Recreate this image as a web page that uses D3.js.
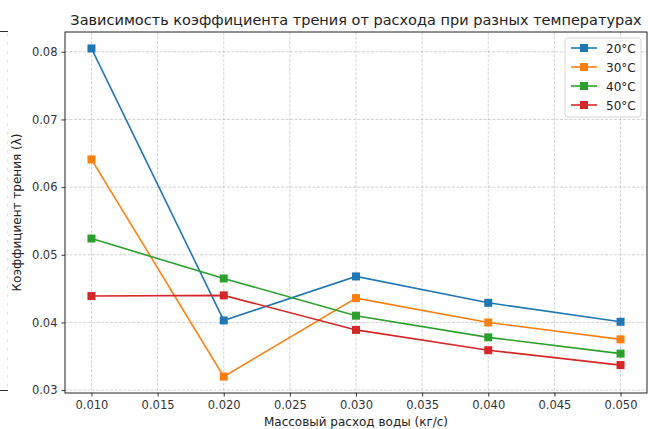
<!DOCTYPE html>
<html><head><meta charset="utf-8">
<script src="https://cdn.jsdelivr.net/npm/d3@7"></script>
<style>body{margin:0;background:#fff}svg{display:block;font-family:"DejaVu Sans",sans-serif}</style>
</head><body>
<svg id="c" width="648" height="429"></svg>
<script>
const flows = [0.010, 0.020, 0.030, 0.040, 0.050];
const seriesNames = ["20°C", "30°C", "40°C", "50°C"];
const t20 = [0.0805, 0.0403, 0.0468, 0.0429, 0.0401];
const t30 = [0.0641, 0.0320, 0.0436, 0.0400, 0.0375];
const t40 = [0.0524, 0.0465, 0.0410, 0.0378, 0.0354];
const t50 = [0.0439, 0.0440, 0.0389, 0.0359, 0.0337];
const xTicks = [0.010, 0.015, 0.020, 0.025, 0.030, 0.035, 0.040, 0.045, 0.050];
const yTicks = [0.03, 0.04, 0.05, 0.06, 0.07, 0.08];
const colors = ["#1f77b4", "#ff7f0e", "#2ca02c", "#d62728"];
const seriesVals = [t20, t30, t40, t50];

const svg = d3.select("#c");
const L = 65, R = 647, T = 32, B = 393;

// remnant stubs at left edge
svg.append("line").attr("x1",0).attr("x2",8).attr("y1",31.5).attr("y2",31.5).attr("stroke","#333").attr("stroke-width",1);
svg.append("line").attr("x1",0).attr("x2",8).attr("y1",390.5).attr("y2",390.5).attr("stroke","#333").attr("stroke-width",1);
svg.append("line").attr("x1",7.5).attr("x2",7.5).attr("y1",33).attr("y2",389).attr("stroke","#ddd").attr("stroke-dasharray","3,6").attr("stroke-width",0.8);

const all = seriesVals.flat();
const ymin = d3.min(all), ymax = d3.max(all), pad = 0.05*(ymax-ymin);
const x = d3.scaleLinear().domain([0.008, 0.052]).range([L, R]);
const y = d3.scaleLinear().domain([ymin-pad, ymax+pad]).range([B, T]);

// grid
const g = svg.append("g");
g.selectAll(".gx").data(xTicks).enter().append("line")
  .attr("x1",d=>x(d)).attr("x2",d=>x(d)).attr("y1",T).attr("y2",B)
  .attr("stroke","#b0b0b0").attr("stroke-opacity",0.7).attr("stroke-width",0.8).attr("stroke-dasharray","3,1.5");
g.selectAll(".gy").data(yTicks).enter().append("line")
  .attr("y1",d=>y(d)).attr("y2",d=>y(d)).attr("x1",L).attr("x2",R)
  .attr("stroke","#b0b0b0").attr("stroke-opacity",0.7).attr("stroke-width",0.8).attr("stroke-dasharray","3,1.5");

// axes
const xa = svg.append("g").attr("transform",`translate(0,${B})`)
  .call(d3.axisBottom(x).tickValues(xTicks).tickFormat(d3.format(".3f")).tickSize(3.5).tickPadding(4));
const ya = svg.append("g").attr("transform",`translate(${L},0)`)
  .call(d3.axisLeft(y).tickValues(yTicks).tickFormat(d3.format(".2f")).tickSize(3.5).tickPadding(4));
[xa, ya].forEach(a => {
  a.select(".domain").remove();
  a.selectAll("text").attr("font-size", 11.5).attr("fill","#333").attr("font-family","DejaVu Sans");
  a.selectAll("line").attr("stroke","#333");
});

// lines
const line = d3.line().x((d,i)=>x(flows[i])).y(d=>y(d));
seriesVals.forEach((vals, k) => {
  svg.append("path").datum(vals).attr("d", line).attr("fill","none")
    .attr("stroke", colors[k]).attr("stroke-width", 1.6);
  svg.selectAll(".m"+k).data(vals).enter().append("rect")
    .attr("x",(d,i)=>x(flows[i])-4).attr("y",d=>y(d)-4).attr("width",8).attr("height",8)
    .attr("fill", colors[k]);
});

// frame
svg.append("rect").attr("x",L).attr("y",T).attr("width",R-L).attr("height",B-T)
  .attr("fill","none").attr("stroke","#222").attr("stroke-width",1);

// title and labels
svg.append("text").attr("x",(L+R)/2).attr("y",25).attr("text-anchor","middle")
  .attr("font-size",14.5).attr("fill","#222").text("Зависимость коэффициента трения от расхода при разных температурах");
svg.append("text").attr("x",(L+R)/2).attr("y",426).attr("text-anchor","middle")
  .attr("font-size",12).attr("fill","#222").text("Массовый расход воды (кг/с)");
svg.append("text").attr("transform",`translate(21,${(T+B)/2}) rotate(-90)`).attr("text-anchor","middle")
  .attr("font-size",12).attr("fill","#222").text("Коэффициент трения (λ)");

// legend
const lg = svg.append("g");
lg.append("rect").attr("x",565).attr("y",38).attr("width",76).attr("height",79).attr("rx",3)
  .attr("fill","#fff").attr("fill-opacity",0.8).attr("stroke","#ccc").attr("stroke-width",0.8);
seriesNames.forEach((n,k) => {
  const yy = 48 + k*19;
  lg.append("line").attr("x1",571).attr("x2",597).attr("y1",yy).attr("y2",yy).attr("stroke",colors[k]).attr("stroke-width",1.6);
  lg.append("rect").attr("x",580).attr("y",yy-4).attr("width",8).attr("height",8).attr("fill",colors[k]);
  lg.append("text").attr("x",606).attr("y",yy+4.5).attr("font-size",12).attr("fill","#222").text(n);
});
</script>
</body></html>
